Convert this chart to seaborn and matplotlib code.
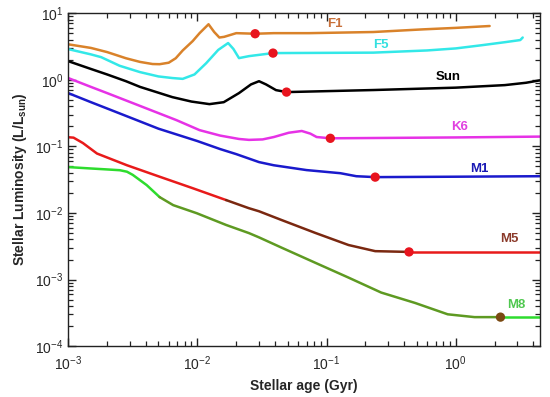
import numpy as np
import pandas as pd
import matplotlib
matplotlib.use("Agg")
import matplotlib.pyplot as plt
import matplotlib.ticker as mticker
import seaborn as sns

# ages in Gyr, luminosity in L/Lsun
f1_age = [0.001, 0.0015, 0.002, 0.0028, 0.0036, 0.0045, 0.0051, 0.006, 0.0068, 0.0077,
          0.0092, 0.0104, 0.0122, 0.0135, 0.0148, 0.0161, 0.02, 0.028, 0.039, 0.073,
          0.23, 0.557, 1.0, 1.83]
f1_lum = [3.4, 3.0, 2.6, 2.1, 1.85, 1.72, 1.71, 1.8, 2.1, 2.75,
          3.8, 5.0, 6.8, 5.2, 4.3, 4.4, 5.0, 4.9, 5.0, 5.0,
          5.2, 5.7, 6.0, 6.4]

f5_age = [0.001, 0.0015, 0.0018, 0.0025, 0.0036, 0.005, 0.0064, 0.0077, 0.0095, 0.0117,
          0.0145, 0.0173, 0.019, 0.021, 0.0251, 0.0385, 0.23, 0.6, 1.0, 1.6,
          2.43, 3.16, 3.3]
f5_lum = [2.88, 2.4, 2.18, 1.62, 1.3, 1.12, 1.06, 1.03, 1.2, 1.77,
          2.8, 3.55, 2.9, 2.11, 2.26, 2.51, 2.55, 2.75, 2.95, 3.3,
          3.67, 3.94, 4.3]

sun_age = [0.001, 0.0015, 0.002, 0.0028, 0.0036, 0.0064, 0.009, 0.0124, 0.016, 0.021,
           0.026, 0.030, 0.034, 0.0406, 0.049, 0.23, 1.0, 2.4, 3.5, 4.5]
sun_lum = [1.9, 1.45, 1.2, 0.95, 0.78, 0.548, 0.47, 0.43, 0.46, 0.63,
           0.85, 0.95, 0.85, 0.698, 0.652, 0.70, 0.76, 0.83, 0.9, 0.98]

k6_age = [0.001, 0.0015, 0.002, 0.00316, 0.0069, 0.0104, 0.015, 0.021, 0.0251, 0.032,
          0.0391, 0.051, 0.0643, 0.075, 0.0838, 0.107, 1.0, 4.5]
k6_lum = [1.06, 0.78, 0.63, 0.446, 0.247, 0.175, 0.145, 0.129, 0.125, 0.127,
          0.138, 0.16, 0.17, 0.155, 0.138, 0.132, 0.136, 0.14]

m1_age = [0.001, 0.0015, 0.002, 0.0034, 0.005, 0.010, 0.015, 0.020, 0.030, 0.039,
          0.070, 0.128, 0.17, 0.238, 1.0, 4.5]
m1_lum = [0.63, 0.46, 0.37, 0.247, 0.184, 0.12, 0.091, 0.0764, 0.058, 0.052,
          0.044, 0.0395, 0.0356, 0.0345, 0.035, 0.0356]

m5_age = [0.001, 0.0011, 0.0013, 0.00167, 0.00285, 0.0051, 0.00916, 0.0167, 0.025, 0.030,
          0.0451, 0.0822, 0.148, 0.238, 0.435, 4.5]
m5_lum = [0.137, 0.135, 0.112, 0.078, 0.052, 0.035, 0.0236, 0.0156, 0.0118, 0.0106,
          0.0078, 0.0050, 0.0033, 0.00267, 0.0026, 0.0026]

m8_age = [0.001, 0.0015, 0.002, 0.00251, 0.00285, 0.00316, 0.00405, 0.0051, 0.0065, 0.0099,
          0.0167, 0.0251, 0.030, 0.0451, 0.0822, 0.148, 0.265, 0.484, 0.867, 1.4,
          2.22, 4.5]
m8_lum = [0.0488, 0.0465, 0.045, 0.0438, 0.0416, 0.0373, 0.0262, 0.0173, 0.0131, 0.0099,
          0.0066, 0.00498, 0.0043, 0.0030, 0.00178, 0.00107, 0.000638, 0.000446, 0.000301, 0.000273,
          0.000273, 0.000273]

# zero-age main sequence markers
zams_star = ["F1", "F5", "Sun", "K6", "M1", "M5"]
zams_age = [0.028, 0.0385, 0.049, 0.107, 0.238, 0.435]
zams_lum = [4.9, 2.51, 0.652, 0.132, 0.0345, 0.0026]
m8_zams_age = [2.22]
m8_zams_lum = [0.000273]

star_names = ["F1", "F5", "Sun", "K6", "M1", "M5", "M8"]
label_age = [0.117, 0.265, 0.88, 1.07, 1.53, 2.6, 2.94]
label_lum = [6.9, 3.35, 1.09, 0.194, 0.0455, 0.00405, 0.000413]

colors = {"F1": "#d9822a", "F5": "#33e8e8", "Sun": "#000000", "K6": "#e632e6",
          "M1": "#1a1acc", "M5": "#e81a1a", "M8": "#2edc2e"}
label_colors = {"F1": "#c8703a", "F5": "#33e0e0", "Sun": "#000000", "K6": "#e040e0",
                "M1": "#1a1ab4", "M5": "#8b3a2a", "M8": "#50c850"}
m5_mid_color = "#7a2810"
m8_mid_color = "#5e9a22"

sns.set_style("ticks")
plt.rcParams["font.family"] = ["Liberation Sans", "DejaVu Sans"]
plt.rcParams["mathtext.fontset"] = "custom"
plt.rcParams["mathtext.rm"] = "Liberation Sans"
plt.rcParams["mathtext.it"] = "Liberation Sans:italic"
plt.rcParams["mathtext.bf"] = "Liberation Sans:bold"

fig = plt.figure(figsize=(5.5, 3.97), dpi=100)
ax = fig.add_axes([0.124, 0.128, 0.858, 0.839])


def draw(age, lum, color):
    df = pd.DataFrame({"age": age, "lum": lum})
    sns.lineplot(data=df, x="age", y="lum", ax=ax, color=color, lw=1.8,
                 estimator=None, sort=False)


series = {"F1": (f1_age, f1_lum), "F5": (f5_age, f5_lum), "Sun": (sun_age, sun_lum),
          "K6": (k6_age, k6_lum), "M1": (m1_age, m1_lum)}
for name, (a, l) in series.items():
    draw(a, l, colors[name])

# M5 and M8 change colour between the early contraction and the ZAMS
a, l = np.array(m5_age), np.array(m5_lum)
draw(a[a <= 0.0167], l[a <= 0.0167], colors["M5"])
mid = (a >= 0.0167) & (a <= 0.435)
draw(a[mid], l[mid], m5_mid_color)
draw(a[a >= 0.435], l[a >= 0.435], colors["M5"])

a, l = np.array(m8_age), np.array(m8_lum)
draw(a[a <= 0.0051], l[a <= 0.0051], colors["M8"])
mid = (a >= 0.0051) & (a <= 2.22)
draw(a[mid], l[mid], m8_mid_color)
draw(a[a >= 2.22], l[a >= 2.22], colors["M8"])

sns.scatterplot(x=zams_age, y=zams_lum, ax=ax, color="#e8141e", s=45,
                edgecolor="none", zorder=5)
sns.scatterplot(x=m8_zams_age, y=m8_zams_lum, ax=ax, color="#7a4a12", s=45,
                edgecolor="none", zorder=5)

for name, x, y in zip(star_names, label_age, label_lum):
    ax.text(x, y, name, color=label_colors[name], fontsize=9.5, fontweight="bold",
            ha="center", va="center")

ax.set_xscale("log")
ax.set_yscale("log")
ax.set_xlim(1e-3, 4.5)
ax.set_ylim(1e-4, 10)
ax.xaxis.set_minor_locator(mticker.LogLocator(base=10, subs=np.arange(2, 10), numticks=20))
ax.yaxis.set_minor_locator(mticker.LogLocator(base=10, subs=np.arange(2, 10), numticks=20))
ax.xaxis.set_minor_formatter(mticker.NullFormatter())
ax.yaxis.set_minor_formatter(mticker.NullFormatter())
ax.set_xlabel("Stellar age (Gyr)", fontsize=10, fontweight="bold")
ax.set_ylabel(r"Stellar Luminosity (L/L$_{\mathbf{sun}}$)", fontsize=10, fontweight="bold")
ax.tick_params(which="both", direction="in", top=True, right=True, labelsize=10,
               color="#222222")
ax.tick_params(which="major", length=6, width=1.0)
ax.tick_params(which="minor", length=3.5, width=0.9)
ax.tick_params(axis="x", which="major", pad=6)
for sp in ax.spines.values():
    sp.set_linewidth(1.0)
    sp.set_color("#222222")

fig.savefig("out.png", dpi=100)
